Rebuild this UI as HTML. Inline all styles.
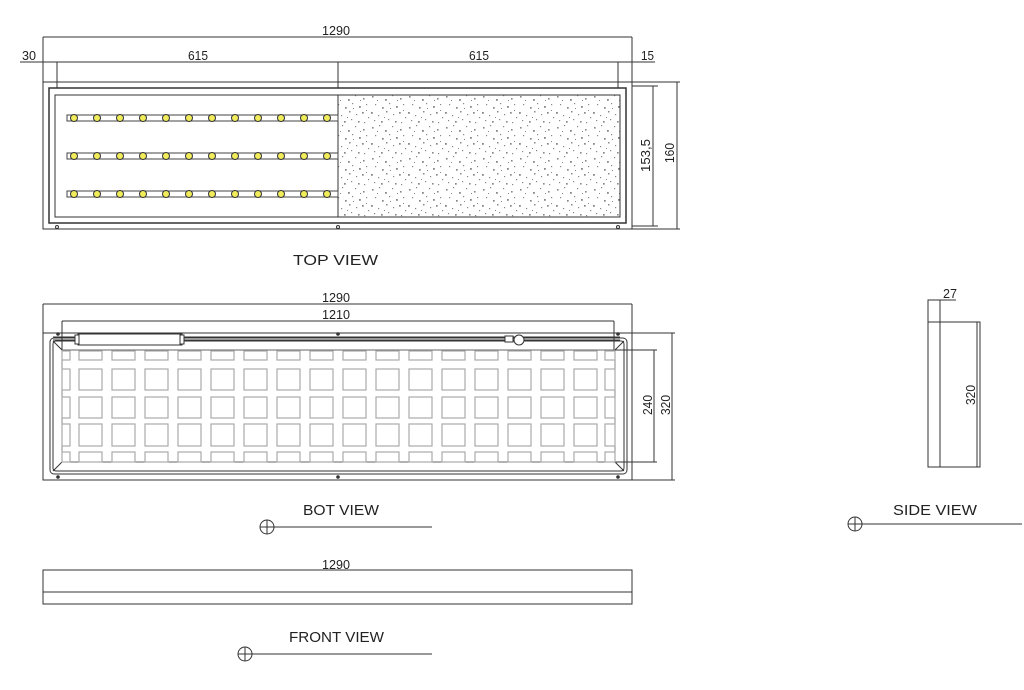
<!DOCTYPE html>
<html><head><meta charset="utf-8"><style>
html,body{margin:0;padding:0;background:#fff;}
svg{display:block;}
text{font-family:"Liberation Sans",sans-serif;font-size:13px;fill:#222;}
.lb{font-size:15px;}
</style></head><body>
<svg id="s" width="1024" height="690" viewBox="0 0 1024 690" xmlns="http://www.w3.org/2000/svg">
<defs>
<pattern id="sp" width="37" height="31" patternUnits="userSpaceOnUse">
<g fill="#888">
<rect x="2" y="3" width="1.6" height="1.6"/><rect x="9" y="1" width="1.2" height="1.2"/><rect x="15" y="6" width="1.8" height="1.8"/><rect x="22" y="2" width="1.2" height="1.2"/><rect x="30" y="5" width="1.6" height="1.6"/>
<rect x="5" y="11" width="1.2" height="1.2"/><rect x="12" y="14" width="1.7" height="1.7"/><rect x="19" y="10" width="1.2" height="1.2"/><rect x="26" y="13" width="1.8" height="1.8"/><rect x="33" y="11" width="1.2" height="1.2"/>
<rect x="1" y="19" width="1.8" height="1.8"/><rect x="8" y="22" width="1.2" height="1.2"/><rect x="16" y="18" width="1.5" height="1.5"/><rect x="23" y="21" width="1.2" height="1.2"/><rect x="29" y="19" width="1.7" height="1.7"/><rect x="35" y="24" width="1.2" height="1.2"/>
<rect x="4" y="27" width="1.2" height="1.2"/><rect x="11" y="28" width="1.7" height="1.7"/><rect x="18" y="26" width="1.2" height="1.2"/><rect x="25" y="28" width="1.6" height="1.6"/><rect x="31" y="29" width="1.2" height="1.2"/>
<rect x="7" y="7" width="1" height="1"/><rect x="20" y="15" width="1" height="1"/><rect x="33" y="17" width="1" height="1"/><rect x="14" y="24" width="1" height="1"/><rect x="27" y="7" width="1" height="1"/>
</g></pattern>
</defs>
<g stroke="#333" stroke-width="1" fill="none" id="g">
<line x1="43" y1="37" x2="632" y2="37"/>
<line x1="43" y1="37" x2="43" y2="229"/>
<line x1="632" y1="37" x2="632" y2="229"/>
<line x1="20" y1="62" x2="655" y2="62"/>
<line x1="57" y1="62" x2="57" y2="88"/><line x1="338" y1="62" x2="338" y2="88"/><line x1="618" y1="62" x2="618" y2="88"/>
<rect x="43" y="82" width="589" height="147"/>
<rect x="49" y="88" width="577" height="135" stroke-width="1.5"/>
<rect x="338" y="95" width="282" height="122" fill="url(#sp)" stroke="none"/>
<rect x="55" y="95" width="565" height="122"/>
<line x1="338" y1="95" x2="338" y2="217"/>
<line x1="632" y1="86" x2="658" y2="86"/><line x1="632" y1="226" x2="658" y2="226"/>
<line x1="653" y1="86" x2="653" y2="226"/>
<line x1="632" y1="82" x2="680" y2="82"/><line x1="632" y1="229" x2="680" y2="229"/>
<line x1="677" y1="82" x2="677" y2="229"/>
<circle cx="57" cy="227" r="1.5"/><circle cx="338" cy="227" r="1.5"/><circle cx="618" cy="227" r="1.5"/>
<line x1="43" y1="304" x2="632" y2="304"/>
<line x1="43" y1="304" x2="43" y2="480"/><line x1="632" y1="304" x2="632" y2="480"/>
<line x1="62" y1="321" x2="614" y2="321"/>
<line x1="62" y1="321" x2="62" y2="350"/><line x1="614" y1="321" x2="614" y2="350"/>
<rect x="43" y="333" width="589" height="147"/>
<rect x="50" y="338" width="577" height="136" rx="4"/>
<rect x="53" y="341" width="571" height="130" rx="3"/>
<line x1="53" y1="341" x2="62" y2="350"/><line x1="624" y1="341" x2="615" y2="350"/>
<line x1="53" y1="471" x2="62" y2="462"/><line x1="624" y1="471" x2="615" y2="462"/>
<line x1="62" y1="350" x2="62" y2="462" stroke="#888"/><line x1="615" y1="350" x2="615" y2="462" stroke="#888"/>
<line x1="62" y1="350" x2="615" y2="350" stroke="#666"/><line x1="62" y1="462" x2="615" y2="462" stroke="#666"/>
<line x1="53" y1="337" x2="620" y2="337"/><line x1="53" y1="340" x2="620" y2="340"/>
<rect x="78" y="334" width="104" height="11" fill="#fff"/>
<rect x="75" y="335" width="4" height="9" fill="#fff"/><rect x="180" y="335" width="4" height="9" fill="#fff"/>
<rect x="505" y="336" width="8" height="6" fill="#fff"/><circle cx="519" cy="340" r="5" fill="#fff"/>
<circle cx="338" cy="334" r="1.3" fill="#333"/><circle cx="58" cy="334" r="1.3" fill="#333"/><circle cx="618" cy="334" r="1.3" fill="#333"/>
<circle cx="58" cy="477" r="1.3" fill="#333"/><circle cx="338" cy="477" r="1.3" fill="#333"/><circle cx="618" cy="477" r="1.3" fill="#333"/>
<line x1="615" y1="350" x2="657" y2="350"/><line x1="615" y1="462" x2="657" y2="462"/>
<line x1="654" y1="350" x2="654" y2="462"/>
<line x1="632" y1="333" x2="675" y2="333"/><line x1="632" y1="480" x2="675" y2="480"/>
<line x1="672" y1="333" x2="672" y2="480"/>
<circle cx="267" cy="527" r="7"/><line x1="260" y1="527" x2="432" y2="527"/><line x1="267" y1="520" x2="267" y2="534"/>
<line x1="43" y1="570" x2="632" y2="570"/>
<rect x="43" y="570" width="589" height="34"/>
<line x1="43" y1="592" x2="632" y2="592"/>
<circle cx="245" cy="654" r="7"/><line x1="238" y1="654" x2="432" y2="654"/><line x1="245" y1="647" x2="245" y2="661"/>
<rect x="928" y="300" width="12" height="167"/>
<rect x="940" y="322" width="40" height="145"/>
<line x1="928" y1="322" x2="940" y2="322"/>
<line x1="940" y1="300" x2="956" y2="300"/>
<line x1="977" y1="322" x2="977" y2="467"/>
<circle cx="855" cy="524" r="7"/><line x1="848" y1="524" x2="1022" y2="524"/><line x1="855" y1="517" x2="855" y2="531"/>
</g>
<g id="leds"></g>
<g id="grid" fill="none" stroke="#aaa" stroke-width="1.2"></g>
<text x="322" y="35" textLength="28" lengthAdjust="spacingAndGlyphs">1290</text>
<text x="22" y="60" textLength="14" lengthAdjust="spacingAndGlyphs">30</text>
<text x="188" y="60" textLength="20" lengthAdjust="spacingAndGlyphs">615</text>
<text x="469" y="60" textLength="20" lengthAdjust="spacingAndGlyphs">615</text>
<text x="641" y="60" textLength="13" lengthAdjust="spacingAndGlyphs">15</text>
<text transform="translate(650,172) rotate(-90)" textLength="33" lengthAdjust="spacingAndGlyphs">153,5</text>
<text transform="translate(674,163) rotate(-90)" textLength="20" lengthAdjust="spacingAndGlyphs">160</text>
<text class="lb" x="293" y="265" textLength="85" lengthAdjust="spacingAndGlyphs">TOP VIEW</text>
<text x="322" y="302" textLength="28" lengthAdjust="spacingAndGlyphs">1290</text>
<text x="322" y="319" textLength="28" lengthAdjust="spacingAndGlyphs">1210</text>
<text transform="translate(652,415) rotate(-90)" textLength="20" lengthAdjust="spacingAndGlyphs">240</text>
<text transform="translate(670,415) rotate(-90)" textLength="20" lengthAdjust="spacingAndGlyphs">320</text>
<text class="lb" x="303" y="515" textLength="76" lengthAdjust="spacingAndGlyphs">BOT VIEW</text>
<text x="322" y="569" textLength="28" lengthAdjust="spacingAndGlyphs">1290</text>
<text class="lb" x="289" y="642" textLength="95" lengthAdjust="spacingAndGlyphs">FRONT VIEW</text>
<text x="943" y="298" textLength="14" lengthAdjust="spacingAndGlyphs">27</text>
<text transform="translate(975,405) rotate(-90)" textLength="20" lengthAdjust="spacingAndGlyphs">320</text>
<text class="lb" x="893" y="515" textLength="84" lengthAdjust="spacingAndGlyphs">SIDE VIEW</text>
</svg>
<script>
var NS="http://www.w3.org/2000/svg";
function el(p,t,a){var e=document.createElementNS(NS,t);for(var k in a)e.setAttribute(k,a[k]);p.appendChild(e);return e;}
var L=document.getElementById('leds');
[118,156,194].forEach(function(y){
 el(L,'rect',{x:67,y:y-3,width:271,height:6,fill:'#fff',stroke:'#444','stroke-width':1});
 for(var i=0;i<12;i++){el(L,'circle',{cx:74+i*23,cy:y,r:3.5,fill:'#f0ec5a',stroke:'#333','stroke-width':1});}
});
var G=document.getElementById('grid');
var rows=[[351,360],[369,390],[397,418],[424,446],[452,462]];
var cols=[[62,70]];for(var x=79;x<605;x+=33)cols.push([x,Math.min(x+23,615)]);cols.push([605,615]);
rows.forEach(function(r){cols.forEach(function(c){if(c[1]>c[0])el(G,'rect',{x:c[0],y:r[0],width:c[1]-c[0],height:r[1]-r[0]});});});
</script>
</body></html>
